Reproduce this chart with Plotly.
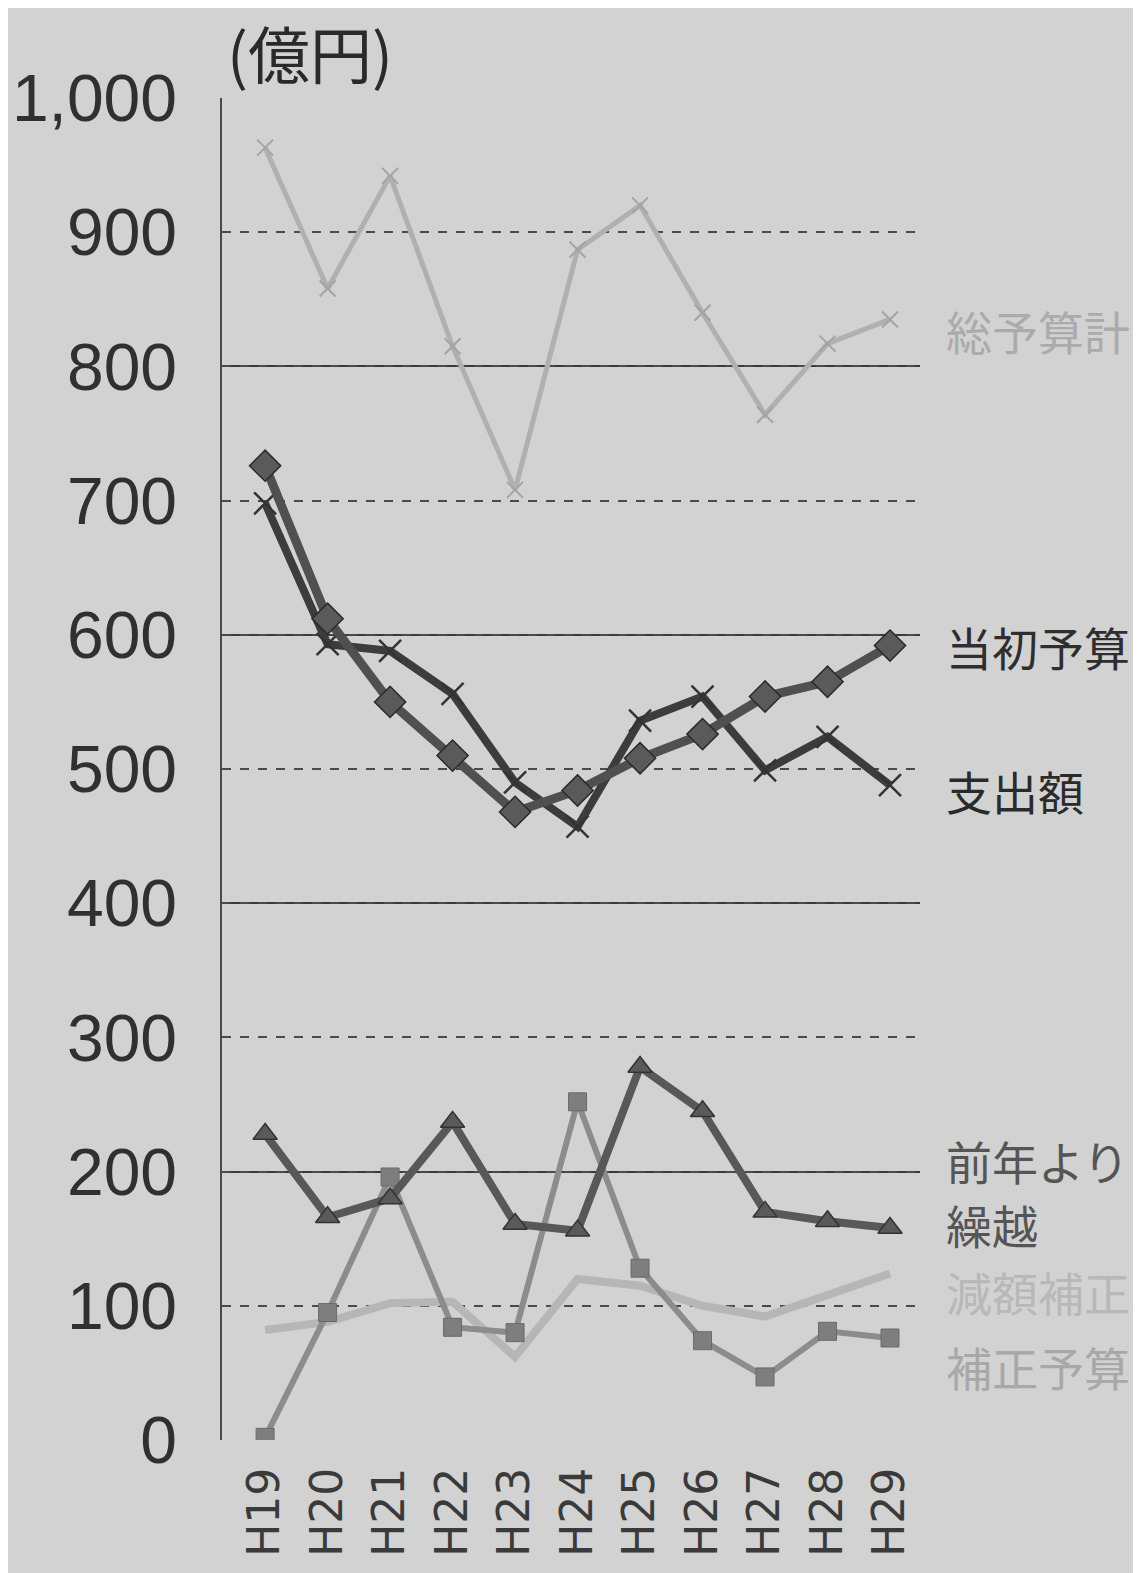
import plotly.graph_objects as go

years = ["H19", "H20", "H21", "H22", "H23", "H24", "H25", "H26", "H27", "H28", "H29"]
total_budget = [963, 858, 942, 815, 708, 887, 920, 840, 764, 817, 835]      # 総予算計
initial_budget = [726, 612, 550, 510, 468, 484, 508, 526, 554, 565, 592]    # 当初予算
expenditure = [698, 593, 588, 556, 490, 457, 536, 554, 499, 524, 488]       # 支出額
carryover = [228, 166, 180, 237, 161, 156, 278, 245, 170, 163, 158]         # 前年より繰越
reduction = [82, 88, 102, 103, 62, 120, 115, 100, 92, 108, 124]             # 減額補正
supplementary = [2, 95, 196, 84, 80, 252, 128, 74, 47, 81, 76]              # 補正予算

y_ticks = [0, 100, 200, 300, 400, 500, 600, 700, 800, 900, 1000]
y_tick_text = ["0", "100", "200", "300", "400", "500", "600", "700", "800", "900", "1,000"]
solid_grid = [0, 200, 400, 600, 800, 1000]

labels = [
    ("総予算計", 827, "#ababab"),
    ("当初予算", 592, "#2e2e2e"),
    ("支出額", 484, "#2a2a2a"),
    ("前年より", 209, "#555555"),
    ("繰越", 161, "#555555"),
    ("減額補正", 111, "#b8b8b8"),
    ("補正予算", 55, "#a8a8a8"),
]

xs = list(range(len(years)))
fig = go.Figure()

fig.add_trace(go.Scatter(x=xs, y=total_budget, mode="lines+markers",
                         line=dict(color="#b0b0b0", width=5),
                         marker=dict(symbol="x-thin", size=16, line=dict(color="#a4a4a4", width=2))))
fig.add_trace(go.Scatter(x=xs, y=reduction, mode="lines",
                         line=dict(color="#b6b6b6", width=8)))
fig.add_trace(go.Scatter(x=xs, y=supplementary, mode="lines+markers",
                         line=dict(color="#8c8c8c", width=6),
                         marker=dict(symbol="square", size=18, color="#7e7e7e",
                                     line=dict(color="#6a6a6a", width=1))))
fig.add_trace(go.Scatter(x=xs, y=carryover, mode="lines+markers",
                         line=dict(color="#585858", width=8),
                         marker=dict(symbol="triangle-up", size=21, color="#5a5a5a",
                                     line=dict(color="#333333", width=1.5))))
fig.add_trace(go.Scatter(x=xs, y=expenditure, mode="lines+markers",
                         line=dict(color="#3c3c3c", width=8),
                         marker=dict(symbol="x-thin", size=22, line=dict(color="#333333", width=2.5))))
fig.add_trace(go.Scatter(x=xs, y=initial_budget, mode="lines+markers",
                         line=dict(color="#505050", width=9),
                         marker=dict(symbol="diamond", size=24, color="#5a5a5a",
                                     line=dict(color="#2a2a2a", width=1.5))))

for text, yv, col in labels:
    fig.add_annotation(x=1.035, y=yv, xref="paper", yref="y", text=text, showarrow=False,
                       xanchor="left", yanchor="middle", align="left",
                       font=dict(family="Noto Sans CJK JP", size=46, color=col))

fig.add_annotation(x=0.005, y=0.999, xref="paper", yref="paper", text="(億円)", showarrow=False,
                   xanchor="left", yanchor="bottom",
                   font=dict(family="Noto Sans CJK JP", size=62, color="#2a2a2a"))

# page body has an 8px margin, so the figure is sized/offset to compensate
fig.update_layout(
    width=1133, height=1565,
    margin=dict(l=214, r=221, t=90, b=133, autoexpand=False),
    paper_bgcolor="#d2d2d2", plot_bgcolor="#d2d2d2",
    showlegend=False,
    xaxis=dict(range=[-0.69, 10.48], tickvals=xs, ticktext=years, tickangle=-90,
               showgrid=False, zeroline=False, showline=False, ticks="",
               ticklabelstandoff=18, automargin=False,
               tickfont=dict(family="DejaVu Sans", size=44, color="#3a3a3a")),
    yaxis=dict(range=[0, 1000], tickvals=y_ticks, ticktext=y_tick_text,
               showgrid=True, gridcolor="#4a4a4a", gridwidth=1.5, griddash="dash",
               zeroline=False, showline=True, linecolor="#4a4a4a", linewidth=1.5,
               ticks="", ticklabelstandoff=30, automargin=False,
               tickfont=dict(family="Liberation Sans", size=66, color="#303030"),
               minor=dict(tickvals=solid_grid, showgrid=True, gridcolor="#3a3a3a",
                          gridwidth=1.5, griddash="solid", ticks="")),
)

fig.write_html("out.html")
